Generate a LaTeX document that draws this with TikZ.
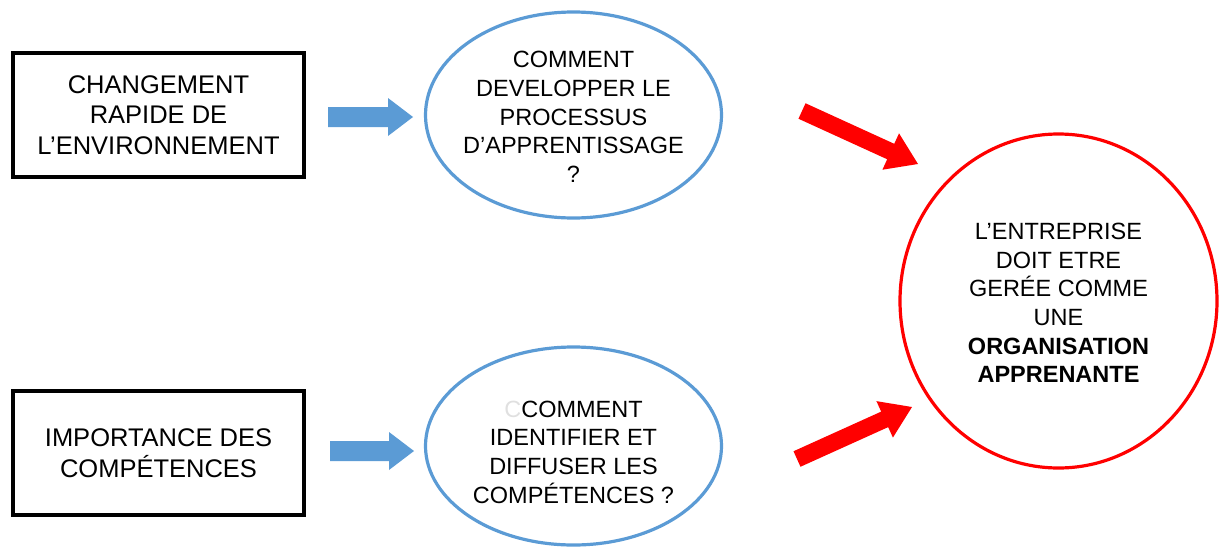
\documentclass[tikz,border=0pt]{standalone}
\usepackage{fontspec}
\setmainfont{Liberation Sans}
\usetikzlibrary{shapes.geometric,calc}
\definecolor{bl}{RGB}{91,155,213}
\definecolor{rd}{RGB}{255,0,0}
\newcommand\blockarr[6]{% color, tail, tip, half shaft, half head, head length
  \coordinate (n#2) at ($(#3)!#6!(#2)$);
  \fill[#1] ($(#2)!#4!90:(#3)$) -- ($(n#2)!#4!-90:(#2)$) -- ($(n#2)!#5!-90:(#2)$) -- (#3)
    -- ($(n#2)!#5!90:(#2)$) -- ($(n#2)!#4!90:(#2)$) -- ($(#2)!#4!-90:(#3)$) -- cycle;}
\begin{document}
\begin{tikzpicture}[x=1pt,y=-1pt,
  txt/.style={font=\fontsize{23.5}{28.7}\selectfont, align=center, text=black},
  btxt/.style={font=\fontsize{25.5}{30.5}\selectfont, align=center, text=black},
  rbox/.style={draw=black, line width=3.6pt, minimum width=291pt, minimum height=124pt, inner sep=0pt},
  bell/.style={ellipse, draw=bl, line width=3.2pt, minimum width=296pt, inner sep=0pt},
  rell/.style={ellipse, draw=rd, line width=3.2pt, minimum width=317pt, minimum height=334pt, inner sep=0pt}]
\useasboundingbox (0,0) rectangle (1221,549);
\node[rbox] (b1) at (158.5,115) {};
\node[btxt] (t1) at (158.5,115) {CHANGEMENT\\RAPIDE DE\\L’ENVIRONNEMENT};
\node[rbox] (b2) at (158.5,453) {};
\node[btxt] (t2) at (158.5,453) {IMPORTANCE DES\\COMPÉTENCES};
\node[bell, minimum height=206pt] (e1) at (573.5,115) {};
\node[txt] (te1) at (573.5,117) {COMMENT\\DEVELOPPER LE\\PROCESSUS\\D’APPRENTISSAGE\\?};
\node[bell, minimum height=198pt] (e2) at (573.5,446) {};
\node[txt] (te2) at (573.5,452) {\textcolor{black!12}{C}COMMENT\\IDENTIFIER ET\\DIFFUSER LES\\COMPÉTENCES ?};
\node[rell] (c) at (1058.5,301) {};
\node[txt] (tc) at (1058.5,303) {L’ENTREPRISE\\DOIT ETRE\\GERÉE COMME\\UNE\\\textbf{ORGANISATION}\\\textbf{APPRENANTE}};
\coordinate (a1t) at (328,117);
\coordinate (a1p) at (413,117);
\coordinate (a2t) at (330,451);
\coordinate (a2p) at (414,451);
\coordinate (r1t) at (802,111);
\coordinate (r1p) at (918,164);
\coordinate (r2t) at (797,459);
\coordinate (r2p) at (912,407);
\blockarr{bl}{a1t}{a1p}{10pt}{19pt}{25pt}
\blockarr{bl}{a2t}{a2p}{10pt}{19pt}{25pt}
\blockarr{rd}{r1t}{r1p}{8.5pt}{20pt}{30pt}
\blockarr{rd}{r2t}{r2p}{8.5pt}{20pt}{30pt}
\end{tikzpicture}
\end{document}
